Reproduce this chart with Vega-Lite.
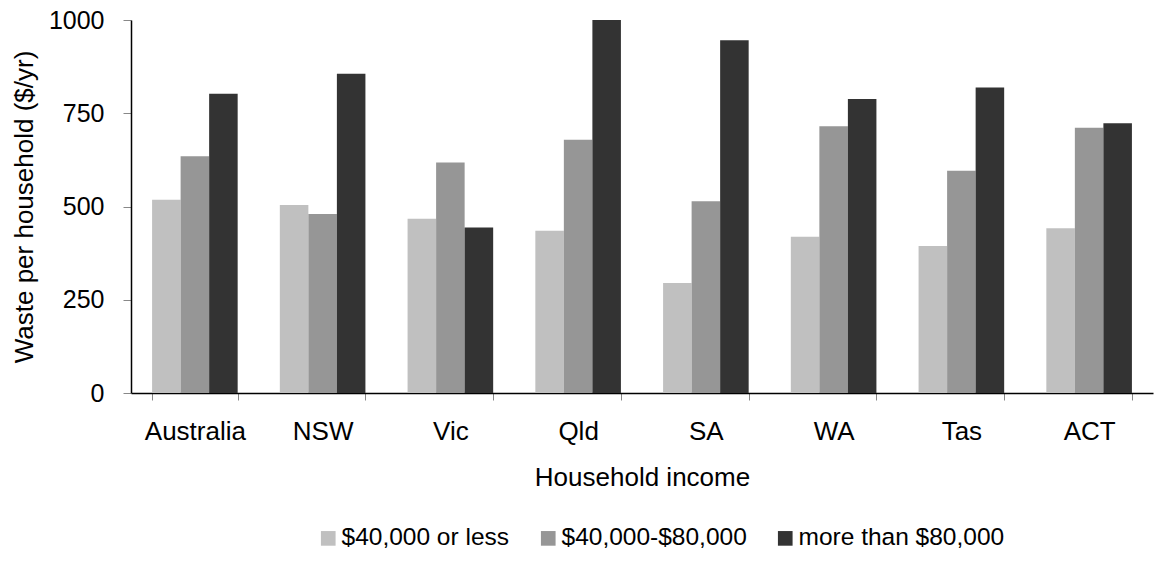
{
  "$schema": "https://vega.github.io/schema/vega-lite/v6.json",
  "autosize": {"type": "none"},
  "width": 1022,
  "height": 373,
  "padding": {"left": 131, "top": 20, "right": 1, "bottom": 172},
  "background": "white",
  "config": {
    "view": {"stroke": null},
    "font": "Liberation Sans",
    "axis": {"grid": false, "labelFont": "Liberation Sans", "titleFont": "Liberation Sans", "labelColor": "#000", "titleColor": "#000", "titleFontWeight": "normal"}
  },
  "data": {
    "values": [
      {"region": "Australia", "income": "$40,000 or less", "waste": 518},
      {"region": "Australia", "income": "$40,000-$80,000", "waste": 635},
      {"region": "Australia", "income": "more than $80,000", "waste": 802},
      {"region": "NSW", "income": "$40,000 or less", "waste": 504},
      {"region": "NSW", "income": "$40,000-$80,000", "waste": 480},
      {"region": "NSW", "income": "more than $80,000", "waste": 856},
      {"region": "Vic", "income": "$40,000 or less", "waste": 467},
      {"region": "Vic", "income": "$40,000-$80,000", "waste": 618},
      {"region": "Vic", "income": "more than $80,000", "waste": 444},
      {"region": "Qld", "income": "$40,000 or less", "waste": 435},
      {"region": "Qld", "income": "$40,000-$80,000", "waste": 679},
      {"region": "Qld", "income": "more than $80,000", "waste": 1000},
      {"region": "SA", "income": "$40,000 or less", "waste": 295},
      {"region": "SA", "income": "$40,000-$80,000", "waste": 514},
      {"region": "SA", "income": "more than $80,000", "waste": 946},
      {"region": "WA", "income": "$40,000 or less", "waste": 419},
      {"region": "WA", "income": "$40,000-$80,000", "waste": 715},
      {"region": "WA", "income": "more than $80,000", "waste": 788},
      {"region": "Tas", "income": "$40,000 or less", "waste": 394},
      {"region": "Tas", "income": "$40,000-$80,000", "waste": 596},
      {"region": "Tas", "income": "more than $80,000", "waste": 819},
      {"region": "ACT", "income": "$40,000 or less", "waste": 442},
      {"region": "ACT", "income": "$40,000-$80,000", "waste": 711},
      {"region": "ACT", "income": "more than $80,000", "waste": 723}
    ]
  },
  "mark": {"type": "bar"},
  "encoding": {
    "x": {
      "field": "region", "type": "nominal", "sort": null,
      "scale": {"paddingInner": 0.33, "paddingOuter": 0.165},
      "axis": {
        "title": "Household income", "labelAngle": 0, "labelFontSize": 26, "titleFontSize": 26,
        "domainColor": "#000", "domainWidth": 1.5, "tickColor": "#888", "tickSize": 7, "tickBand": "extent",
        "labelPadding": 18, "titleX": 511, "titleY": 84, "titleBaseline": "middle", "titleAlign": "center"
      }
    },
    "xOffset": {"field": "income", "type": "nominal", "sort": null, "scale": {"paddingInner": 0, "paddingOuter": 0}},
    "y": {
      "field": "waste", "type": "quantitative",
      "scale": {"domain": [0, 1000], "nice": false},
      "axis": {
        "title": "Waste per household ($/yr)", "values": [0, 250, 500, 750, 1000], "format": "d",
        "labelFontSize": 25, "titleFontSize": 26, "domainColor": "#000", "domainWidth": 1.5,
        "tickColor": "#888", "tickSize": 8, "labelPadding": 19,
        "titleX": -107, "titleY": 186.5, "titleAngle": -90, "titleBaseline": "middle", "titleAlign": "center"
      }
    },
    "color": {
      "field": "income", "type": "nominal", "sort": null,
      "scale": {"domain": ["$40,000 or less", "$40,000-$80,000", "more than $80,000"], "range": ["#C0C0C0", "#969696", "#333333"]},
      "legend": {
        "title": null, "orient": "none", "direction": "horizontal", "legendX": 185, "legendY": 506,
        "symbolType": "square", "symbolSize": 215, "symbolStrokeWidth": 0, "labelFontSize": 24.5, "labelFont": "Liberation Sans",
        "labelColor": "#000", "columnPadding": 26, "labelOffset": 1, "labelLimit": 400
      }
    }
  }
}
